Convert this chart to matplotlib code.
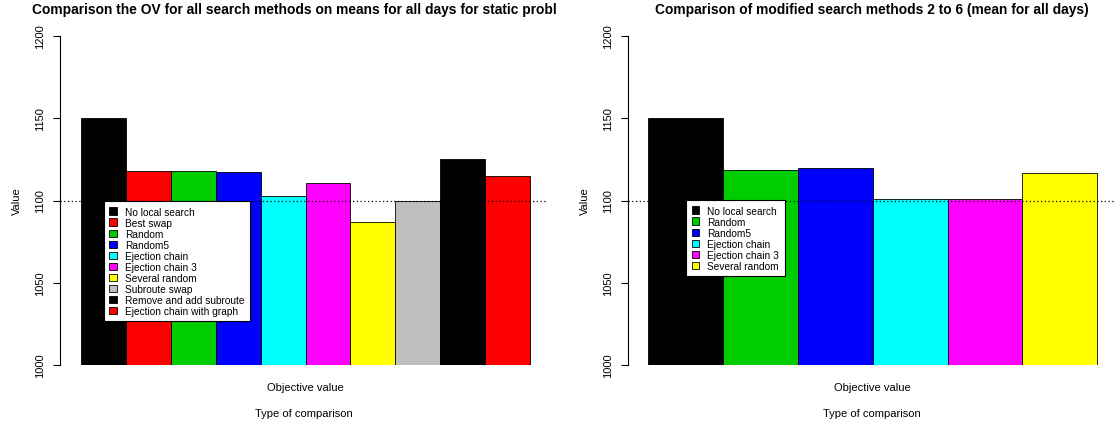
import matplotlib.pyplot as plt
from matplotlib.patches import Patch
from matplotlib.transforms import Bbox, TransformedBbox

plt.rcParams['font.family'] = ['Liberation Sans', 'DejaVu Sans']

# mean objective values, static problem, all search methods
methods_all = ['No local search', 'Best swap', 'Random', 'Random5', 'Ejection chain',
               'Ejection chain 3', 'Several random', 'Subroute swap',
               'Remove and add subroute', 'Ejection chain with graph']
values_all = [1150, 1118, 1118, 1117.5, 1103, 1110.5, 1087, 1100, 1125, 1115]
colors_all = ['#000000', '#FF0000', '#00CD00', '#0000FF', '#00FFFF',
              '#FF00FF', '#FFFF00', '#BEBEBE', '#000000', '#FF0000']

# modified methods 2 to 6
methods_mod = ['No local search', 'Random', 'Random5', 'Ejection chain',
               'Ejection chain 3', 'Several random']
values_mod = [1150, 1118.5, 1120, 1101, 1101, 1117]
colors_mod = ['#000000', '#00CD00', '#0000FF', '#00FFFF', '#FF00FF', '#FFFF00']

yticks = [1000, 1050, 1100, 1150, 1200]
reference_line = 1100

W, H = 1115, 427
fig = plt.figure(figsize=(W / 100, H / 100), dpi=100)


def panel(left_px, values, colors, labels, margins, legend_xy):
    ax = fig.add_axes([left_px / W, 1 - 366 / H, 488 / W, 329 / H])
    n = len(values)
    xs = list(range(n))
    ax.bar(xs, [v - 1000 for v in values], bottom=1000, width=1.0, align='edge',
           color=colors, edgecolor='black', linewidth=0.6, zorder=2)
    ax.set_xlim(-margins[0], n + margins[1])
    ax.set_ylim(1000, 1200)
    ax.axhline(reference_line, color='black', linestyle=(0, (1, 2)), linewidth=0.9, zorder=3)
    for s in ['top', 'right', 'bottom']:
        ax.spines[s].set_visible(False)
    ax.spines['left'].set_linewidth(0.8)
    ax.set_yticks(yticks)
    ax.set_yticklabels([str(t) for t in yticks], rotation=90, va='center')
    ax.tick_params(axis='y', length=5, width=0.8, pad=5.5, labelsize=8)
    ax.set_xticks([n / 2])
    ax.set_xticklabels(['Objective value'])
    ax.tick_params(axis='x', length=0, pad=12, labelsize=8)
    ax.set_xlabel('Type of comparison', fontsize=8, labelpad=12)
    ax.set_ylabel('Value', fontsize=8, labelpad=10)
    handles = [Patch(facecolor=c, edgecolor='black', linewidth=0.6) for c in colors]
    leg = ax.legend(handles, labels, loc='upper left', bbox_to_anchor=legend_xy,
                    fontsize=7.3, frameon=True, fancybox=False, framealpha=1,
                    edgecolor='black', handlelength=0.75, handleheight=0.7,
                    handletextpad=0.8, labelspacing=0.1, borderpad=0.55,
                    borderaxespad=0)
    leg.get_frame().set_linewidth(0.8)
    leg.set_zorder(5)
    return ax


panel(60, values_all, colors_all, methods_all, (0.47, 0.40), (0.090, 0.4985))
panel(628, values_mod, colors_mod, methods_mod, (0.27, 0.25), (0.119, 0.5015))

# titles are clipped to their own half of the figure
t1 = fig.text(304 / W, 1 - 10 / H,
              'Comparison the OV for all search methods on means for all days for static problem',
              ha='center', va='center', fontsize=9.9, fontweight='bold')
t1.set_clip_on(True)
t1.set_clip_box(TransformedBbox(Bbox([[0, 0], [557 / W, 1]]), fig.transFigure))
fig.text(872 / W, 1 - 10 / H,
         'Comparison of modified search methods 2 to 6 (mean for all days)',
         ha='center', va='center', fontsize=9.9, fontweight='bold')

fig.savefig('out.png', dpi=100)
